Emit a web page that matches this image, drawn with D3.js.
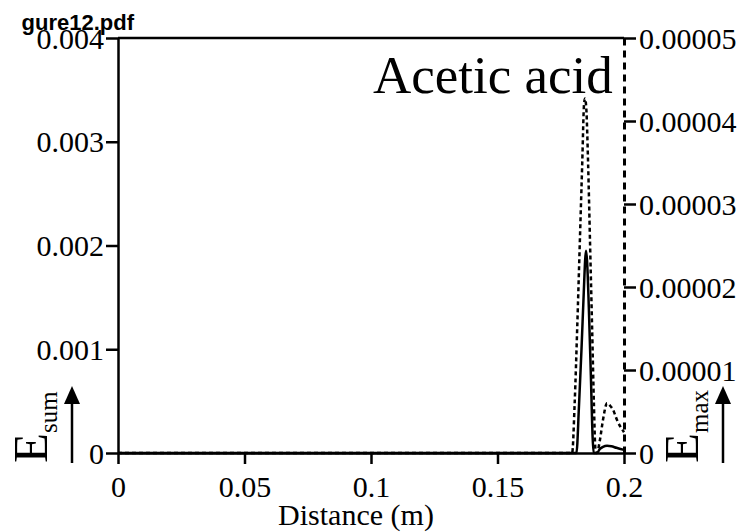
<!DOCTYPE html>
<html>
<head>
<meta charset="utf-8">
<script src="https://cdn.jsdelivr.net/npm/d3@7/dist/d3.min.js"></script>
<style>
  html, body { margin: 0; padding: 0; background: #fff; }
  svg text { font-family: "Liberation Serif", "Times New Roman", serif; fill: #000; }
</style>
</head>
<body>
<div id="chart"></div>
<script>
// graduations des axes
const xTicks     = [0, 0.05, 0.1, 0.15, 0.2];
const xTickText  = ['0', '0.05', '0.1', '0.15', '0.2'];
const sumTicks   = [0, 0.001, 0.002, 0.003, 0.004];
const sumTickText = ['0', '0.001', '0.002', '0.003', '0.004'];
const maxTicks   = [0, 0.00001, 0.00002, 0.00003, 0.00004, 0.00005];
const maxTickText = ['0', '0.00001', '0.00002', '0.00003', '0.00004', '0.00005'];

// E_sum (trait plein, axe gauche)
const distSum = [0, 0.1812, 0.1822, 0.1832, 0.1841, 0.1847, 0.1850, 0.1854, 0.1861, 0.1869, 0.1876, 0.1880,
                 0.1893, 0.1905, 0.1917, 0.1933, 0.1950, 0.1970, 0.2000];
const eSum    = [0, 0, 0.00045, 0.0010, 0.00155, 0.00188, 0.00195, 0.00185, 0.0014, 0.00075, 0.00015, 0,
                 0, 0.00004, 0.00006, 0.00007, 0.000065, 0.00005, 0.00003];

// E_max (pointillés, axe droit)
const distMax = [0, 0.1795, 0.1805, 0.1815, 0.1825, 0.1835, 0.1842, 0.1846, 0.1851, 0.1858, 0.1866, 0.1874, 0.1881, 0.1887,
                 0.1893, 0.1905, 0.1917, 0.1933, 0.1945, 0.1957, 0.1972, 0.2000];
const eMax    = [0, 0, 0.6e-5, 1.5e-5, 2.5e-5, 3.5e-5, 4.2e-5, 4.27e-5, 4.15e-5, 3.5e-5, 2.5e-5, 1.5e-5, 0.6e-5, 0.05e-5,
                 0, 0.16e-5, 0.4e-5, 0.6e-5, 0.57e-5, 0.52e-5, 0.4e-5, 0.25e-5];

const W = 749, H = 532;
const LEFT = 118, RIGHT = 624, TOP = 38, BOTTOM = 453;
const FS = 30;

const svg = d3.select('#chart').append('svg')
  .attr('width', W).attr('height', H);

const x  = d3.scaleLinear().domain([0, 0.2]).range([LEFT, RIGHT]);
const yS = d3.scaleLinear().domain([0, 0.004]).range([BOTTOM, TOP]);
const yM = d3.scaleLinear().domain([0, 0.00005]).range([BOTTOM, TOP]);

// courbes
const lineSum = d3.line().x(i => x(distSum[i])).y(i => yS(eSum[i])).curve(d3.curveMonotoneX);
const lineMax = d3.line().x(i => x(distMax[i])).y(i => yM(eMax[i])).curve(d3.curveMonotoneX);

svg.append('path')
  .attr('d', lineMax(d3.range(distMax.length)))
  .attr('fill', 'none').attr('stroke', '#000')
  .attr('stroke-width', 2.5).attr('stroke-dasharray', '4,3');

svg.append('path')
  .attr('d', lineSum(d3.range(distSum.length)))
  .attr('fill', 'none').attr('stroke', '#000')
  .attr('stroke-width', 2.5);

// cadre haut
svg.append('line')
  .attr('x1', LEFT).attr('x2', RIGHT).attr('y1', TOP).attr('y2', TOP)
  .attr('stroke', '#000').attr('stroke-width', 2.5);

// axe X
const gx = svg.append('g').attr('transform', `translate(0,${BOTTOM})`)
  .call(d3.axisBottom(x).tickValues(xTicks).tickFormat((d, i) => xTickText[i]).tickSize(11).tickSizeOuter(0).tickPadding(12));

// axe gauche
const gl = svg.append('g').attr('transform', `translate(${LEFT},0)`)
  .call(d3.axisLeft(yS).tickValues(sumTicks).tickFormat((d, i) => sumTickText[i]).tickSize(12).tickSizeOuter(0).tickPadding(2));

// axe droit (pointillé)
const gr = svg.append('g').attr('transform', `translate(${RIGHT},0)`)
  .call(d3.axisRight(yM).tickValues(maxTicks).tickFormat((d, i) => maxTickText[i]).tickSize(12).tickSizeOuter(0).tickPadding(3));

[gx, gl, gr].forEach(g => {
  g.selectAll('text').style('font-size', FS + 'px').style('font-family', '"Liberation Serif", serif').attr('fill', '#000');
  g.selectAll('line').attr('stroke', '#000').attr('stroke-width', 2.5);
  g.select('.domain').attr('stroke', '#000').attr('stroke-width', 2.5);
});
gr.select('.domain').attr('stroke-dasharray', '7,5').attr('stroke-width', 3);
gl.selectAll('.tick text').attr('dy', '0.34em');
gr.selectAll('.tick text').attr('dy', '0.34em');

// titre de l'axe X
svg.append('text')
  .attr('x', 356).attr('y', 525)
  .attr('text-anchor', 'middle')
  .style('font-size', FS + 'px')
  .text('Distance (m)');

// annotation
svg.append('text')
  .attr('x', 373).attr('y', 93)
  .style('font-size', '53px')
  .text('Acetic acid');

// libellés verticaux avec flèche
function axisLabel(bx, sub, ax) {
  const t = svg.append('text')
    .attr('transform', `translate(${bx},463) rotate(-90)`)
    .style('font-size', '49px');
  t.append('tspan').text('E');
  t.append('tspan').attr('dy', 10).style('font-size', '25px').text(sub);

  svg.append('line')
    .attr('x1', ax).attr('x2', ax).attr('y1', 463).attr('y2', 400)
    .attr('stroke', '#000').attr('stroke-width', 2.5);
  svg.append('path')
    .attr('d', d3.line()([[ax - 8, 404], [ax, 386], [ax + 8, 404]]) + 'Z')
    .attr('fill', '#000');
}
axisLabel(47, 'sum', 72);
axisLabel(698, 'max', 723);

// nom du fichier (en-tête tronqué)
svg.append('text')
  .attr('x', 134).attr('y', 30)
  .attr('text-anchor', 'end')
  .style('font-family', '"Liberation Sans", Arial, sans-serif')
  .style('font-weight', 'bold')
  .style('font-size', '22px')
  .text('gure12.pdf');
</script>
</body>
</html>
